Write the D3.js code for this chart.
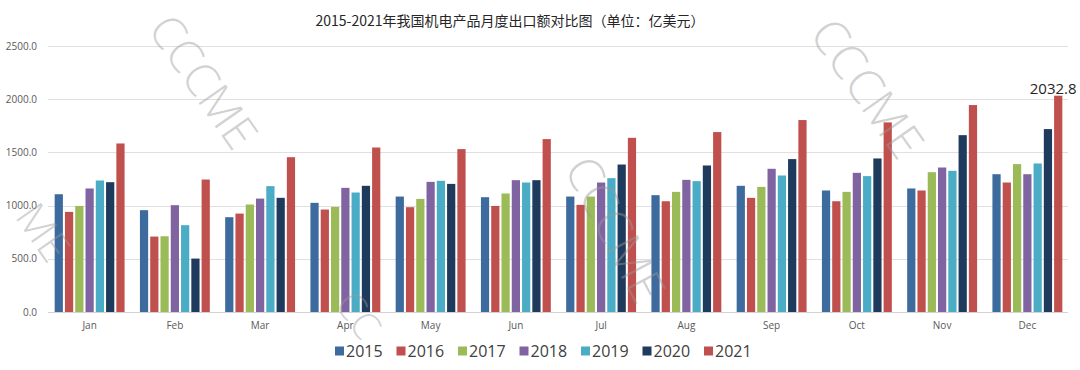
<!DOCTYPE html>
<html>
<head>
<meta charset="utf-8">
<script src="https://cdn.jsdelivr.net/npm/d3@7"></script>
<style>
  body { margin: 0; background: #fff; }
  svg { display: block; font-family: "Open Sans", "Noto Sans", sans-serif; }
</style>
</head>
<body>
<svg id="chart" width="1080" height="370"></svg>
<script>
var months = ["Jan","Feb","Mar","Apr","May","Jun","Jul","Aug","Sep","Oct","Nov","Dec"];
var years = ["2015","2016","2017","2018","2019","2020","2021"];
var colors = ["#3e6b9e","#c0504d","#9bbb59","#8064a2","#4bacc6","#1e3a5c","#c0504d"];
var yTicks = [0, 500, 1000, 1500, 2000, 2500];

// monthly export values, one array per year (亿美元)
var v2015 = [1107, 957, 891, 1026, 1085, 1079, 1085, 1098, 1186, 1142, 1161, 1295];
var v2016 = [941, 709, 925, 963, 985, 997, 1007, 1041, 1073, 1041, 1142, 1217];
var v2017 = [997, 712, 1010, 988, 1063, 1114, 1085, 1129, 1176, 1129, 1314, 1390];
var v2018 = [1161, 1004, 1066, 1167, 1223, 1239, 1217, 1242, 1346, 1308, 1358, 1295];
var v2019 = [1236, 816, 1183, 1123, 1233, 1217, 1258, 1230, 1283, 1277, 1327, 1396];
var v2020 = [1220, 502, 1073, 1186, 1204, 1239, 1386, 1377, 1437, 1443, 1662, 1719];
var v2021 = [1584, 1245, 1455, 1546, 1531, 1625, 1637, 1691, 1804, 1782, 1945, 2032.8];
var series = [v2015, v2016, v2017, v2018, v2019, v2020, v2021];

var svg = d3.select("#chart");

var x0 = d3.scaleBand().domain(months).range([47, 1070]).paddingInner(0.18).paddingOuter(0.09);
var x1 = d3.scaleBand().domain(years).range([0, x0.bandwidth()]).paddingInner(0.2);
var y = d3.scaleLinear().domain([0, 2500]).range([312, 46]);

// grid
svg.append("g")
    .selectAll("line")
    .data(yTicks)
    .join("line")
    .attr("x1", 48).attr("x2", 1068)
    .attr("y1", d => Math.round(y(d)) + 0.5)
    .attr("y2", d => Math.round(y(d)) + 0.5)
    .attr("stroke", d => d == 0 ? "#d2d2d2" : "#e0e0e0")
    .attr("stroke-width", 1);

// y axis labels
svg.append("g")
    .selectAll("text")
    .data(yTicks)
    .join("text")
    .attr("x", 37)
    .attr("y", d => y(d))
    .attr("dy", "0.35em")
    .attr("text-anchor", "end")
    .attr("font-size", 10)
    .attr("fill", "#595959")
    .text(d => d3.format(".1f")(d));

// x axis labels
svg.append("g")
    .selectAll("text")
    .data(months)
    .join("text")
    .attr("x", d => x0(d) + x0.bandwidth() / 2)
    .attr("y", 325)
    .attr("dy", "0.35em")
    .attr("text-anchor", "middle")
    .attr("font-size", 10)
    .attr("fill", "#595959")
    .text(d => d);

// bars
var groups = svg.append("g")
    .selectAll("g")
    .data(months)
    .join("g")
    .attr("transform", d => "translate(" + x0(d) + ",0)");

groups.selectAll("rect")
    .data((m, i) => years.map((yr, j) => ({year: yr, idx: j, value: series[j][i]})))
    .join("rect")
    .attr("x", d => x1(d.year))
    .attr("width", x1.bandwidth())
    .attr("y", d => y(d.value))
    .attr("height", d => y(0) - y(d.value))
    .attr("fill", d => colors[d.idx]);

// label on the last bar
var lastVal = v2021[v2021.length - 1];
svg.append("text")
    .attr("x", x0("Dec") + x1("2021") + x1.bandwidth() / 2 - 5)
    .attr("y", y(lastVal) - 2)
    .attr("text-anchor", "middle")
    .attr("font-size", 15)
    .attr("fill", "#262626")
    .text(d3.format(".1f")(lastVal));

// title
svg.append("text")
    .attr("x", 510)
    .attr("y", 26)
    .attr("text-anchor", "middle")
    .attr("font-family", "'Noto Sans CJK SC', sans-serif")
    .attr("font-size", 14)
    .attr("fill", "#262626")
    .text("2015-2021年我国机电产品月度出口额对比图（单位：亿美元）");

// legend
var legend = svg.append("g")
    .selectAll("g")
    .data(years)
    .join("g")
    .attr("transform", (d, i) => "translate(" + (335 + i * 61.5) + ",351)");
legend.append("rect")
    .attr("x", 0).attr("y", -4.5)
    .attr("width", 9).attr("height", 9)
    .attr("fill", (d, i) => colors[i]);
legend.append("text")
    .attr("x", 11)
    .attr("dy", "0.35em")
    .attr("font-size", 16)
    .attr("fill", "#404040")
    .text(d => d);

// watermarks (kept inside the frame)
var marks = [
    {x: 160, y: 20, a: 55, s: 46, t: "CCCME"},
    {x: 578, y: 160, a: 62, s: 48, t: "CCCME"},
    {x: 822, y: 24, a: 55, s: 48, t: "CCCME"},
    {x: 26, y: 208, a: 55, s: 42, t: "ME"},
    {x: 345, y: 296, a: 55, s: 38, t: "CC"}
];
svg.append("g")
    .selectAll("text")
    .data(marks)
    .join("text")
    .attr("transform", d => "translate(" + d.x + "," + d.y + ") rotate(" + d.a + ")")
    .attr("font-size", d => d.s)
    .attr("font-weight", 300)
    .attr("fill", "#9a9a9a")
    .attr("fill-opacity", 0.45)
    .attr("dy", "0.35em")
    .text(d => d.t);
</script>
</body>
</html>
